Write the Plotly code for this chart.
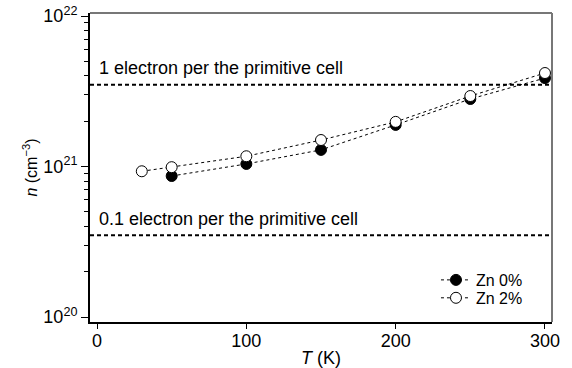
import plotly.graph_objects as go

T_zn0 = [50, 100, 150, 200, 250, 300]
n_zn0 = [8.65e20, 1.04e21, 1.29e21, 1.89e21, 2.81e21, 3.87e21]
T_zn2 = [30, 50, 100, 150, 200, 250, 300]
n_zn2 = [9.3e20, 9.9e20, 1.17e21, 1.50e21, 1.98e21, 2.94e21, 4.18e21]
ref_levels = [3.5e21, 3.5e20]
ref_labels = ["1 electron per the primitive cell", "0.1 electron per the primitive cell"]
xticks = [0, 100, 200, 300]
yticks = [1e20, 1e21, 1e22]
yticktext = ["10<sup>20</sup>", "10<sup>21</sup>", "10<sup>22</sup>"]

FONT = "Liberation Sans, Arial, sans-serif"
xr = [-4.7, 304.7]

fig = go.Figure()
for lv in ref_levels:
    fig.add_trace(go.Scatter(x=xr, y=[lv, lv], mode="lines",
                             line=dict(color="black", width=2, dash="4px,3px"),
                             showlegend=False, hoverinfo="skip"))
fig.add_trace(go.Scatter(x=T_zn0, y=n_zn0, mode="lines+markers", name="Zn 0%",
                         legend="legend",
                         line=dict(color="black", width=1, dash="dot"),
                         marker=dict(symbol="circle", size=11, color="black",
                                     line=dict(color="black", width=1))))
fig.add_trace(go.Scatter(x=T_zn2, y=n_zn2, mode="lines+markers", name="Zn 2%",
                         legend="legend2",
                         line=dict(color="black", width=1, dash="dot"),
                         marker=dict(symbol="circle", size=11, color="white",
                                     line=dict(color="black", width=1))))

minor_vals = [float(m) * 10.0 ** e for e in (20, 21) for m in range(2, 10)]

leg_common = dict(xanchor="right", yanchor="middle", bgcolor="rgba(0,0,0,0)",
                  font=dict(size=16), itemwidth=30)

fig.update_layout(
    width=572, height=368,
    margin=dict(l=90, r=20, t=13, b=46),
    paper_bgcolor="white", plot_bgcolor="white",
    font=dict(family=FONT, color="black", size=17),
    xaxis=dict(range=xr, tickvals=xticks, ticks="outside", ticklen=5,
               tickcolor="black", showline=True, linecolor="black", linewidth=2,
               showgrid=False, zeroline=False, tickfont=dict(size=18), automargin=False,
               ticklabelstandoff=-4,
               title=dict(text="<i>T</i> (K)", font=dict(size=18), standoff=14)),
    yaxis=dict(type="log", range=[19.967, 22.02], tickvals=yticks, ticktext=yticktext,
               ticks="outside", ticklen=7, tickcolor="black", showline=True,
               linecolor="black", linewidth=2, showgrid=False, zeroline=False,
               tickfont=dict(size=18), automargin=False,
               minor=dict(tickvals=minor_vals, ticks="outside", ticklen=4,
                          tickcolor="black", showgrid=False),
               title=dict(text="<i>n</i> (cm<sup>−3</sup>)", font=dict(size=16), standoff=2)),
    legend=dict(x=0.948, y=0.136, **leg_common),
    legend2=dict(x=0.948, y=0.078, **leg_common),
    shapes=[dict(type="line", xref="paper", yref="paper", x0=0, x1=1, y0=1, y1=1,
                 line=dict(color="#777777", width=2)),
            dict(type="line", xref="paper", yref="paper", x0=1, x1=1, y0=0, y1=1,
                 line=dict(color="#777777", width=2))],
    annotations=[
        dict(x=0, y=0.822, xref="x", yref="paper", text=ref_labels[0], showarrow=False,
             xanchor="left", yanchor="middle", font=dict(size=18)),
        dict(x=0, y=0.333, xref="x", yref="paper", text=ref_labels[1], showarrow=False,
             xanchor="left", yanchor="middle", font=dict(size=18)),
    ],
)

fig.write_html("out.html", config={"displayModeBar": False},
               post_script="document.body.style.margin='0';")
